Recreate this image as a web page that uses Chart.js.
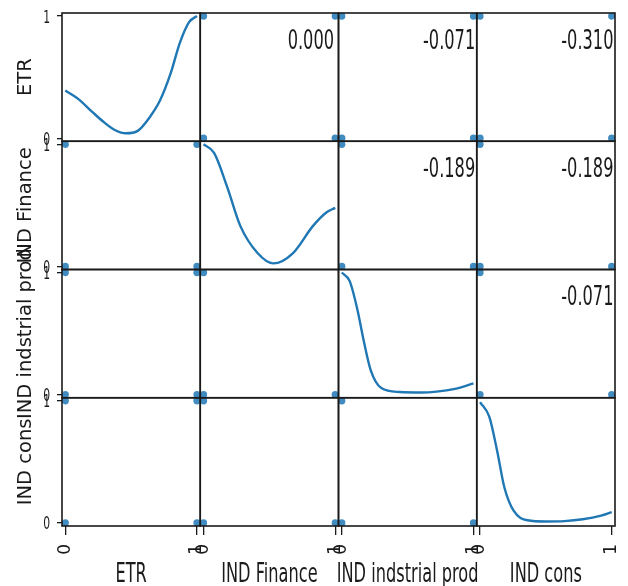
<!DOCTYPE html>
<html lang="en">
<head>
<meta charset="UTF-8">
<title>Scatter matrix</title>
<script src="https://cdn.jsdelivr.net/npm/chart.js"></script>
<style>
  html, body { margin: 0; padding: 0; background: #fff; }
  #wrap { width: 628px; height: 586px; }
</style>
</head>
<body>
<div id="wrap"><canvas id="matrix" width="628" height="586"></canvas></div>
<script>
// variables, in row / column order
const varNames = ['ETR', 'IND Finance', 'IND indstrial prod', 'IND cons'];
const tickValues = [0, 1];

// density curves for the diagonal panels (height relative to the panel)
const etrKdeX = [0, 0.1, 0.2, 0.3, 0.38, 0.46, 0.55, 0.64, 0.72, 0.8, 0.87, 0.94, 1];
const etrKdeY = [0.39, 0.32, 0.22, 0.125, 0.065, 0.04, 0.06, 0.17, 0.31, 0.53, 0.78, 0.95, 1.0];
const financeKdeX = [0, 0.08, 0.18, 0.28, 0.41, 0.53, 0.68, 0.83, 0.93, 1];
const financeKdeY = [1.0, 0.93, 0.65, 0.33, 0.11, 0.025, 0.11, 0.33, 0.44, 0.48];
const prodKdeX = [0, 0.06, 0.12, 0.165, 0.22, 0.3, 0.44, 0.6, 0.72, 0.86, 1];
const prodKdeY = [1.0, 0.93, 0.69, 0.45, 0.2, 0.055, 0.022, 0.018, 0.025, 0.048, 0.092];
const consKdeX = [0, 0.07, 0.13, 0.185, 0.255, 0.36, 0.5, 0.64, 0.78, 0.92, 1];
const consKdeY = [0.99, 0.87, 0.59, 0.29, 0.10, 0.022, 0.012, 0.015, 0.03, 0.06, 0.088];

// pairs above the diagonal and their correlation
const pairIndex = [[0, 1], [0, 2], [0, 3], [1, 2], [1, 3], [2, 3]];
const pairCorr = [0.000, -0.071, -0.310, -0.189, -0.189, -0.071];
// (first var, second var) combinations observed for each pair
const pairPoints = [
  [[0, 0], [0, 1], [1, 0], [1, 1]],
  [[0, 0], [0, 1], [1, 0], [1, 1]],
  [[0, 0], [0, 1], [1, 0], [1, 1]],
  [[0, 0], [0, 1], [1, 0]],
  [[0, 0], [0, 1], [1, 0]],
  [[0, 0], [0, 1], [1, 0]]
];

const kdeSets = [[etrKdeX, etrKdeY], [financeKdeX, financeKdeY], [prodKdeX, prodKdeY], [consKdeX, consKdeY]];
const lo = -0.025, hi = 1.025;
const blue = '#1f77b4';
const ink = '#1a1a1a';

function setTicks(scale) {
    scale.ticks = tickValues.map(v => ({ value: v }));
}

// one x scale per column and one y scale per row, stacked into a grid
const scales = {};
varNames.forEach((name, k) => {
    scales['x' + k] = {
        type: 'linear', position: 'bottom', stack: 'cols', weight: k,
        min: lo, max: hi,
        afterBuildTicks: setTicks,
        afterFit: s => { s.height = 60; s.paddingLeft = 0; s.paddingRight = 0; },
        grid: { drawOnChartArea: false, tickLength: 9, color: ink, lineWidth: 1.3 },
        border: { display: false },
        ticks: {
            color: ink, autoSkip: false, minRotation: 90, maxRotation: 90, padding: 9,
            font: { family: 'DejaVu Sans', size: 17 }
        }
    };
    scales['y' + k] = {
        type: 'linear', position: 'left', stack: 'rows', weight: varNames.length - k,
        min: lo, max: hi,
        afterBuildTicks: setTicks,
        afterFit: s => { s.width = 62; s.paddingTop = 0; s.paddingBottom = 0; },
        grid: { drawOnChartArea: false, tickLength: 5, color: ink, lineWidth: 1.3 },
        border: { display: false },
        ticks: { display: false }
    };
});

const datasets = [];
kdeSets.forEach(([xs, ys], k) => {
    datasets.push({
        showLine: true,
        data: xs.map((x, n) => ({ x: x, y: ys[n] })),
        xAxisID: 'x' + k, yAxisID: 'y' + k,
        borderColor: blue, borderWidth: 2.4, pointRadius: 0,
        cubicInterpolationMode: 'monotone', fill: false
    });
});
pairIndex.forEach(([a, b], p) => {
    const pointStyle = { pointRadius: 3.6, backgroundColor: 'rgba(31,119,180,0.85)', borderWidth: 0 };
    // upper panel: row a, column b
    datasets.push(Object.assign({
        data: pairPoints[p].map(([va, vb]) => ({ x: vb, y: va })),
        xAxisID: 'x' + b, yAxisID: 'y' + a
    }, pointStyle));
    // lower panel: row b, column a
    datasets.push(Object.assign({
        data: pairPoints[p].map(([va, vb]) => ({ x: va, y: vb })),
        xAxisID: 'x' + a, yAxisID: 'y' + b
    }, pointStyle));
});

// narrow text, drawn squeezed horizontally
function narrowText(ctx, text, x, y, size, align) {
    ctx.save();
    ctx.translate(x, y);
    ctx.scale(0.6, 1);
    ctx.font = size + 'px "DejaVu Sans"';
    ctx.textAlign = align;
    ctx.textBaseline = 'alphabetic';
    ctx.fillText(text, 0, 0);
    ctx.restore();
}

// panel frames, correlation values, left tick labels and titles
const matrixDecor = {
    id: 'matrixDecor',
    afterDatasetsDraw(chart) {
        const ctx = chart.ctx;
        const xs = varNames.map((_, k) => chart.scales['x' + k]);
        const ys = varNames.map((_, k) => chart.scales['y' + k]);
        ctx.save();
        ctx.strokeStyle = ink;
        ctx.lineWidth = 1.6;
        ys.forEach(sy => xs.forEach(sx => ctx.strokeRect(sx.left, sy.top, sx.width, sy.height)));

        ctx.fillStyle = ink;
        pairIndex.forEach(([a, b], p) => {
            const sx = xs[b], sy = ys[a];
            narrowText(ctx, pairCorr[p].toFixed(3), sx.left + 0.8 * sx.width, sy.bottom - 0.8 * sy.height + 10, 27, 'center');
        });

        ys.forEach(sy => tickValues.forEach(v => {
            narrowText(ctx, String(v), 50, sy.getPixelForValue(v) + 6.5, 18, 'right');
        }));

        xs.forEach((sx, k) => narrowText(ctx, varNames[k], (sx.left + sx.right) / 2, 582, 27, 'center'));

        ys.forEach((sy, k) => {
            ctx.save();
            ctx.translate(31, (sy.top + sy.bottom) / 2);
            ctx.rotate(-Math.PI / 2);
            ctx.font = '19.5px "DejaVu Sans"';
            ctx.textAlign = 'center';
            ctx.textBaseline = 'alphabetic';
            ctx.fillText(varNames[k], 0, 0);
            ctx.restore();
        });
        ctx.restore();
    }
};

new Chart(document.getElementById('matrix'), {
    type: 'scatter',
    data: { datasets: datasets },
    options: {
        responsive: false,
        animation: false,
        devicePixelRatio: 1,
        layout: { padding: { top: 13, right: 13, left: 0, bottom: 0 } },
        scales: scales,
        plugins: { legend: { display: false }, tooltip: { enabled: false } }
    },
    plugins: [matrixDecor]
});
</script>
</body>
</html>
